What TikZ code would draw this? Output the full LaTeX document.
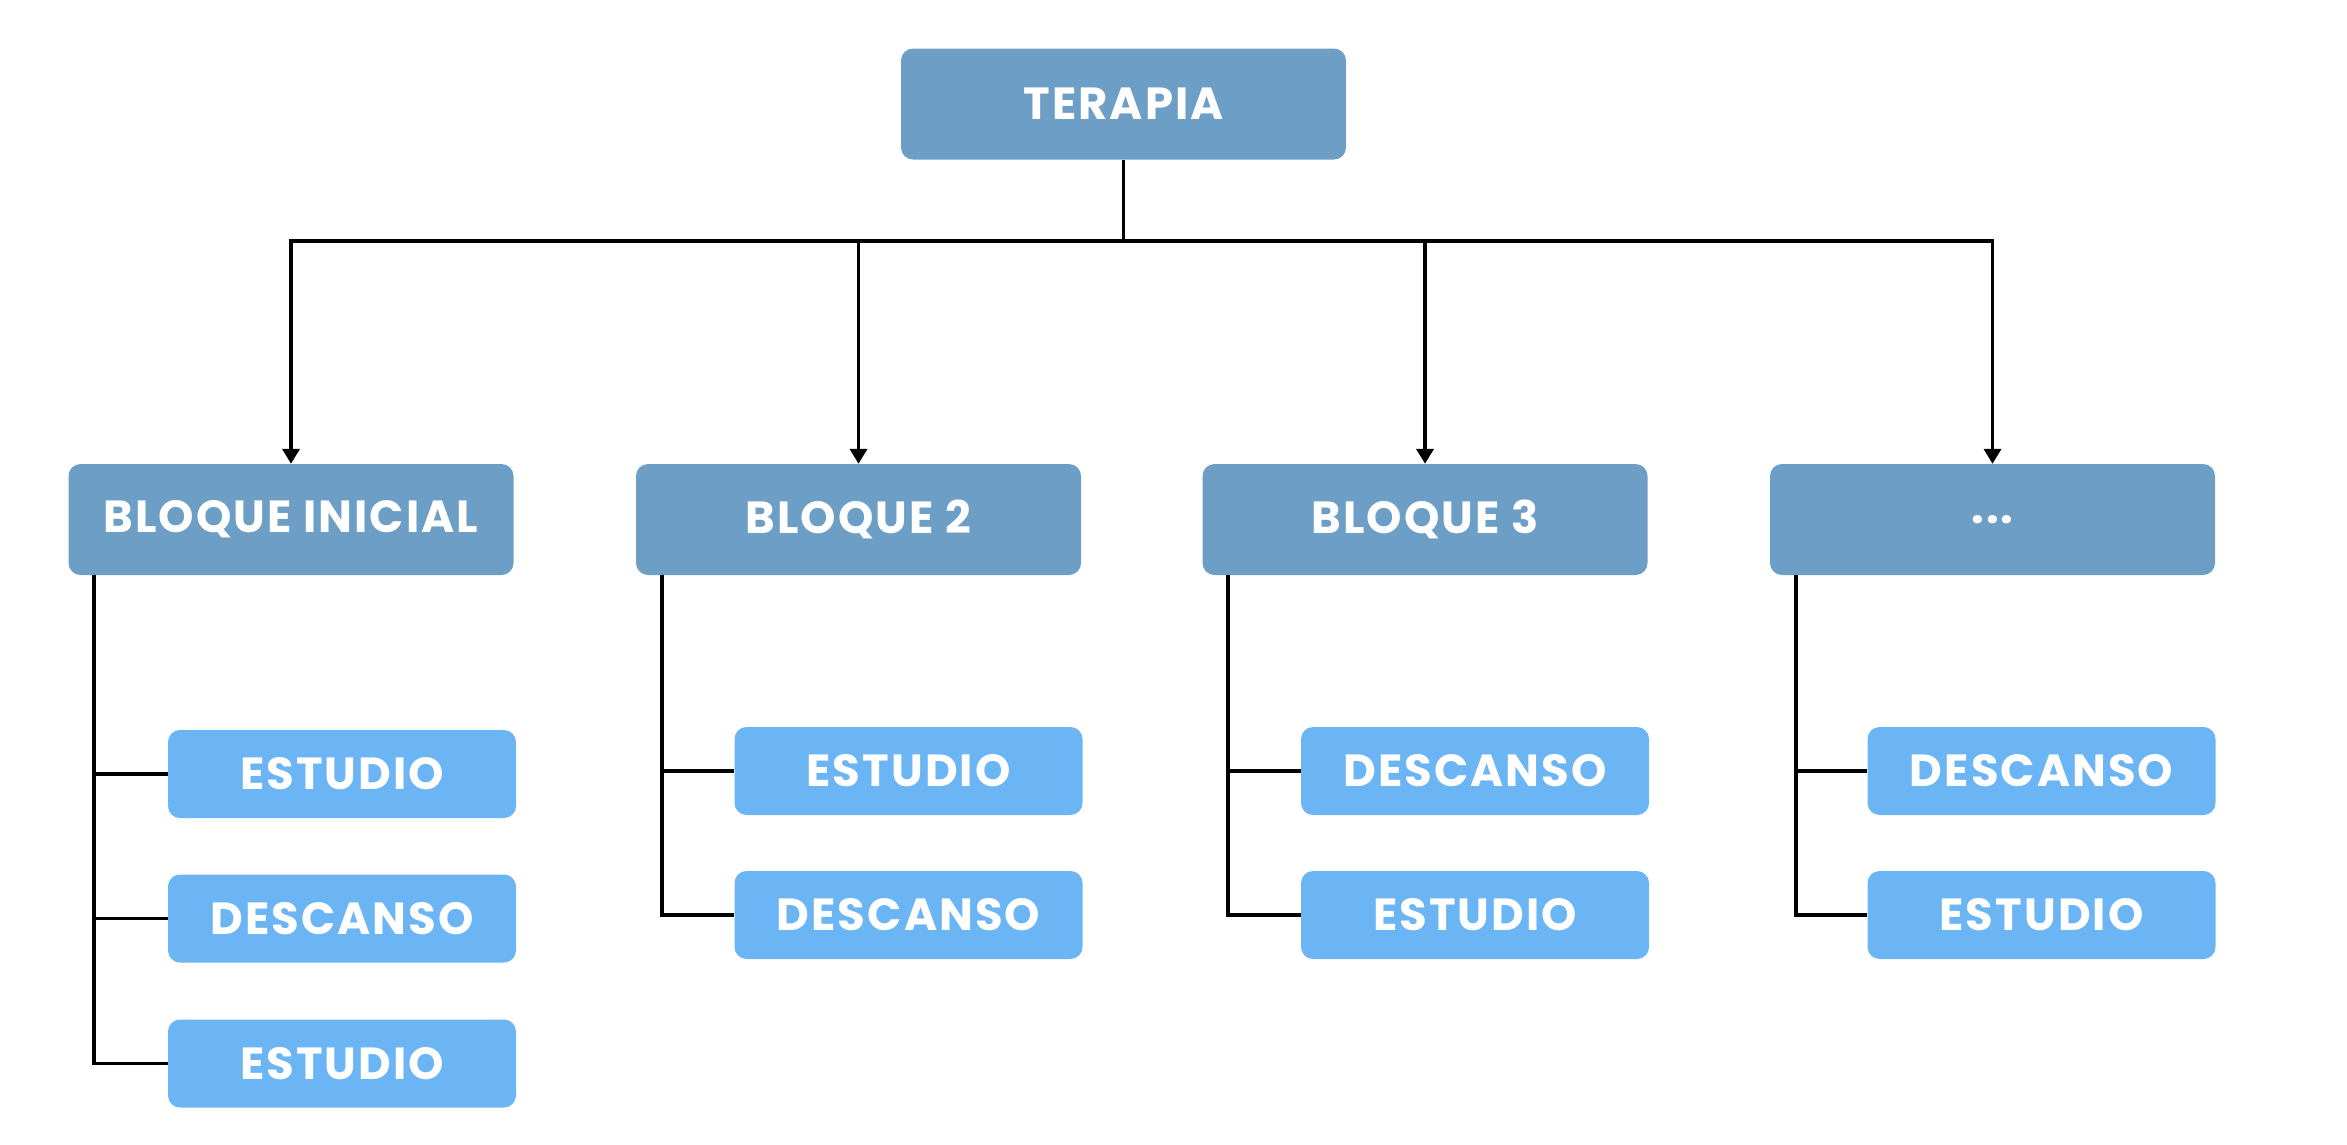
\documentclass[tikz,border=0pt]{standalone}
\usepackage{fontspec}
\setmainfont{Poppins}
\newfontfamily\boxfont{Poppins}[LetterSpace=4.5]
\usetikzlibrary{arrows.meta}
\definecolor{darkbox}{RGB}{108,158,198}
\definecolor{lightbox}{RGB}{108,181,244}
\tikzset{
  bigbox/.style={fill=darkbox, draw=none, rounded corners=12pt, minimum width=445pt, minimum height=111pt, inner sep=0pt, text=white, font=\boxfont\fontsize{45}{52}\selectfont\bfseries},
  smallbox/.style={fill=lightbox, draw=none, rounded corners=12pt, minimum width=348pt, minimum height=88pt, inner sep=0pt, text=white, font=\boxfont\fontsize{45}{52}\selectfont\bfseries},
  conn/.style={line width=3.8pt, black},
  arr/.style={conn, -{Triangle[width=17pt,length=15pt]}}
}
\begin{document}
\begin{tikzpicture}[x=1pt,y=-1pt]
\useasboundingbox (0,0) rectangle (2347,1144);
\node[bigbox] (ter) at (1123.5,104) {TERAPIA};
\node[bigbox] (b1) at (291,519.5) {BLOQUE INICIAL};
\node[bigbox] (b2) at (858.5,519.5) {BLOQUE 2};
\node[bigbox] (b3) at (1425,519.5) {BLOQUE 3};
\node[bigbox] (b4) at (1992.5,519.5) {...};
% small boxes
\node[smallbox] (e11) at (342,774) {ESTUDIO};
\node[smallbox] (e12) at (342,918.5) {DESCANSO};
\node[smallbox] (e13) at (342,1063.5) {ESTUDIO};
\node[smallbox] (e21) at (908.5,771) {ESTUDIO};
\node[smallbox] (e22) at (908.5,915) {DESCANSO};
\node[smallbox] (e31) at (1475,771) {DESCANSO};
\node[smallbox] (e32) at (1475,915) {ESTUDIO};
\node[smallbox] (e41) at (2041.5,771) {DESCANSO};
\node[smallbox] (e42) at (2041.5,915) {ESTUDIO};
% bus
\coordinate (bus) at (1123.5,241);
\draw[conn] (ter.south) -- (bus);
\foreach \b in {b1,b2,b3,b4}{
  \draw[arr] (bus) -| (\b.north);
}
% stems
\coordinate (s1) at ([xshift=26pt]b1.south west);
\coordinate (s2) at ([xshift=26pt]b2.south west);
\coordinate (s3) at ([xshift=26pt]b3.south west);
\coordinate (s4) at ([xshift=26pt]b4.south west);
\draw[conn] (s1) |- (e13.west);
\draw[conn] (s1 |- e11.west) -- (e11.west);
\draw[conn] (s1 |- e12.west) -- (e12.west);
\draw[conn] (s2) |- (e22.west);
\draw[conn] (s2 |- e21.west) -- (e21.west);
\draw[conn] (s3) |- (e32.west);
\draw[conn] (s3 |- e31.west) -- (e31.west);
\draw[conn] (s4) |- (e42.west);
\draw[conn] (s4 |- e41.west) -- (e41.west);
\end{tikzpicture}
\end{document}
